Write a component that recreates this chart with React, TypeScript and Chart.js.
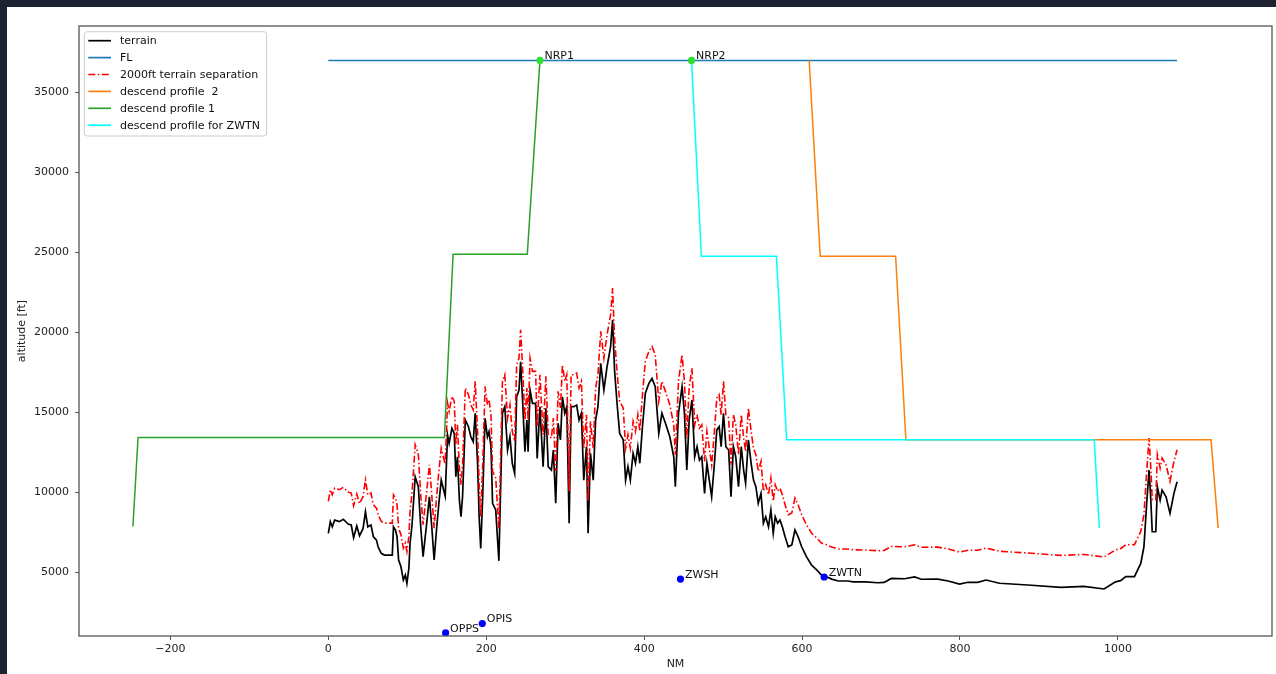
import React, { useEffect, useRef } from 'react';
import { Chart, registerables } from 'chart.js';

Chart.register(...registerables);

// ---------------- data ----------------
const terrainX = [
  0, 2.5, 5, 8, 14, 19, 25, 29, 32, 36,
  39.5, 44, 47, 50, 54, 57, 61, 63, 67, 71,
  81, 82.5, 85, 87, 89, 92, 95, 97.5, 99.5, 102,
  103.5, 106, 110, 114, 117, 120, 125, 128, 131, 134,
  137, 140, 143, 146, 148, 151, 153, 156.5, 159.5, 161.5,
  163.5, 166, 168, 170, 173.5, 177.5, 180.5, 183.5, 186, 189,
  191, 193, 195.5, 198.5, 201.5, 203.5, 206, 208, 212, 216,
  220.5, 223.5, 227, 230, 233, 236, 238.5, 241.5, 243.5, 246,
  249, 251.5, 253, 255.5, 258.5, 262.5, 264.5, 268, 272, 275.5,
  278.5, 282.5, 285, 288, 291, 294, 296.5, 299.5, 302, 305,
  307.5, 311, 314.5, 317.5, 320.5, 323.5, 327, 329, 332, 335.5,
  338.5, 341.5, 345, 349, 353, 357.5, 360, 362.5, 366, 369,
  373.5, 376.5, 379.5, 382.5, 386, 389, 392, 394.5, 397.5, 401.5,
  406, 410, 414, 418.5, 422.5, 427, 432.5, 437.5, 439.5, 443.5,
  448, 451, 454, 457, 460.5, 464, 467, 470, 473, 476.5,
  479.5, 482.5, 485.5, 489, 492, 495, 497.5, 500.5, 503.5, 507,
  510, 513, 516, 519.5, 523, 526, 528.5, 532, 535.5, 538.5,
  541.5, 544.5, 548, 551, 554, 557.5, 560.5, 563.5, 566, 569,
  572, 575, 578.5, 582.5, 587, 591, 595, 599.5, 605.5, 612,
  618.5, 624.5, 631, 637.5, 646, 658, 665, 680, 696, 704,
  713, 730, 742.5, 751, 772, 785, 799.5, 810, 822.5, 833,
  850, 886, 928, 957, 982.5, 997, 1003.5, 1010, 1021, 1029,
  1033, 1036.5, 1039.5, 1041.5, 1043.5, 1048, 1050, 1053.5, 1056, 1061,
  1066, 1071, 1075,
];

const terrainY = [
  7420, 8150, 7830, 8250, 8150, 8300, 8000, 7940, 7150, 7880,
  7270, 7730, 8770, 7830, 7940, 7210, 7000, 6580, 6170, 6060,
  6060, 7830, 7630, 7210, 5750, 5330, 4500, 4810, 4290, 5230,
  6800, 7940, 10960, 10340, 7830, 5960, 8250, 9710, 7830, 5750,
  7630, 9300, 10750, 10130, 9750, 13570, 13050, 13990, 13670, 10960,
  12210, 9500, 8460, 9710, 14510, 14090, 13460, 13150, 14930, 11800,
  8460, 6480, 9710, 14610, 13460, 13780, 12840, 9300, 8880, 5700,
  14930, 15340, 12630, 13460, 11800, 11170, 15960, 16380, 18150, 15760,
  12520, 14510, 12520, 16380, 15550, 15550, 12110, 15340, 11590, 15240,
  11590, 11380, 12630, 9300, 14300, 13260, 15960, 14930, 15340, 8050,
  15340, 15340, 15440, 14510, 14930, 10750, 12840, 7420, 12420, 10750,
  14510, 15340, 18050, 16380, 17840, 19090, 20760, 17630, 15340, 13670,
  13260, 10750, 11590, 10750, 12420, 11800, 12840, 11800, 13880, 16180,
  16800, 17110, 16590, 13670, 14930, 14300, 13460, 12210, 10340, 14930,
  16590, 14930, 11380, 14510, 15760, 12210, 12840, 12000, 12210, 9920,
  11800, 10750, 9710, 11800, 13880, 14090, 12840, 14930, 12840, 12630,
  9710, 12840, 12210, 10340, 12840, 11380, 10550, 13260, 11800, 10750,
  10340, 9300, 9920, 8050, 8460, 7830, 8880, 7420, 8460, 8050,
  8250, 7830, 7210, 6580, 6690, 7630, 7210, 6580, 5960, 5440,
  5130, 4810, 4710, 4560, 4440, 4440, 4390, 4380, 4330, 4350,
  4600, 4580, 4700, 4550, 4560, 4440, 4250, 4360, 4360, 4500,
  4300, 4190, 4040, 4100, 3940, 4390, 4460, 4710, 4710, 5540,
  6580, 9300, 11380, 9710, 7520, 7520, 10340, 9500, 10130, 9710,
  8670, 9920, 10650,
];

const separationY = [
  9420, 10150, 9830, 10250, 10150, 10300, 10000, 9940, 9150, 9880,
  9270, 9730, 10770, 9830, 9940, 9210, 9000, 8580, 8170, 8060,
  8060, 9830, 9630, 9210, 7750, 7330, 6500, 6810, 6290, 7230,
  8800, 9940, 12960, 12340, 9830, 7960, 10250, 11710, 9830, 7750,
  9630, 11300, 12750, 12130, 11750, 15570, 15050, 15990, 15670, 12960,
  14210, 11500, 10460, 11710, 16510, 16090, 15460, 15150, 16930, 13800,
  10460, 8480, 11710, 16610, 15460, 15780, 14840, 11300, 10880, 7700,
  16930, 17340, 14630, 15460, 13800, 13170, 17960, 18380, 20150, 17760,
  14520, 16510, 14520, 18380, 17550, 17550, 14110, 17340, 13590, 17240,
  13590, 13380, 14630, 11300, 16300, 15260, 17960, 16930, 17340, 10050,
  17340, 17340, 17440, 16510, 16930, 12750, 14840, 9420, 14420, 12750,
  16510, 17340, 20050, 18380, 19840, 21090, 22760, 19630, 17340, 15670,
  15260, 12750, 13590, 12750, 14420, 13800, 14840, 13800, 15880, 18180,
  18800, 19110, 18590, 15670, 16930, 16300, 15460, 14210, 12340, 16930,
  18590, 16930, 13380, 16510, 17760, 14210, 14840, 14000, 14210, 11920,
  13800, 12750, 11710, 13800, 15880, 16090, 14840, 16930, 14840, 14630,
  11710, 14840, 14210, 12340, 14840, 13380, 12550, 15260, 13800, 12750,
  12340, 11300, 11920, 10050, 10460, 9830, 10880, 9420, 10460, 10050,
  10250, 9830, 9210, 8580, 8690, 9630, 9210, 8580, 7960, 7440,
  7130, 6810, 6710, 6560, 6440, 6440, 6390, 6380, 6330, 6350,
  6600, 6580, 6700, 6550, 6560, 6440, 6250, 6360, 6360, 6500,
  6300, 6190, 6040, 6100, 5940, 6390, 6460, 6710, 6710, 7540,
  8580, 11300, 13380, 11710, 9520, 9520, 12340, 11500, 12130, 11710,
  10670, 11920, 12650,
];

const flX = [0, 1075];
const flY = [37000, 37000];

const profile2X = [609, 623, 718.5, 731.5, 1118, 1127];
const profile2Y = [37000, 24750, 24750, 13280, 13280, 7750];

const profile1X = [-247.5, -241, 147, 158, 252, 268];
const profile1Y = [7850, 13420, 13420, 24870, 24870, 37000];

const profileZwtnX = [460, 472.5, 567.5, 580.5, 970, 976.5];
const profileZwtnY = [37000, 24750, 24750, 13280, 13280, 7750];

const nrpNames = ['NRP1', 'NRP2'];
const nrpX = [268, 460];
const nrpY = [37000, 37000];

const waypointNames = ['OPPS', 'OPIS', 'ZWSH', 'ZWTN'];
const waypointX = [148.5, 195, 446, 628];
const waypointY = [1190, 1780, 4560, 4690];

const xTicks = [-200, 0, 200, 400, 600, 800, 1000];
const yTicks = [5000, 10000, 15000, 20000, 25000, 30000, 35000];

const legendLabels = [
  'terrain',
  'FL',
  '2000ft terrain separation',
  'descend profile  2',
  'descend profile 1',
  'descend profile for ZWTN',
];

// ---------------- styling ----------------
const FONT_FAMILY = '"DejaVu Sans", "Liberation Sans", sans-serif';
const FONT_SIZE = 11;
const COLORS = {
  terrain: '#000000',
  fl: '#1f77b4',
  separation: '#ff0000',
  profile2: '#ff7f0e',
  profile1: '#2ca02c',
  zwtn: '#00ffff',
  nrp: '#33dd33',
  waypoint: '#0000ff',
};
const RED_DASH = [7, 2.5, 1.5, 2.5];

const toXY = (xs: number[], ys: number[]) => xs.map((x, i) => ({ x, y: ys[i] }));

const fmtTick = (v: number) => (v < 0 ? '\u2212' + Math.abs(v) : String(v));

export default function App() {
  const canvasRef = useRef<HTMLCanvasElement | null>(null);

  useEffect(() => {
    const canvas = canvasRef.current;
    if (!canvas) return;

    const legendItems = [
      { label: legendLabels[0], color: COLORS.terrain, dash: [] as number[] },
      { label: legendLabels[1], color: COLORS.fl, dash: [] as number[] },
      { label: legendLabels[2], color: COLORS.separation, dash: RED_DASH },
      { label: legendLabels[3], color: COLORS.profile2, dash: [] as number[] },
      { label: legendLabels[4], color: COLORS.profile1, dash: [] as number[] },
      { label: legendLabels[5], color: COLORS.zwtn, dash: [] as number[] },
    ];

    const overlay = {
      id: 'overlay',
      afterDatasetsDraw(chart: any) {
        const ctx = chart.ctx;
        const xs = chart.scales.x;
        const ys = chart.scales.y;
        ctx.save();
        ctx.font = `${FONT_SIZE}px ${FONT_FAMILY}`;
        ctx.fillStyle = '#111';
        ctx.textAlign = 'left';
        ctx.textBaseline = 'middle';
        const names = [...nrpNames, ...waypointNames];
        const px = [...nrpX, ...waypointX];
        const py = [...nrpY, ...waypointY];
        names.forEach((n, i) => {
          const x = xs.getPixelForValue(px[i]);
          const y = ys.getPixelForValue(py[i]);
          ctx.fillText(n, x + 4.5, y - 4);
        });
        ctx.restore();
      },
      afterDraw(chart: any) {
        const ctx = chart.ctx;
        const a = chart.chartArea;
        ctx.save();
        // frame (spines)
        ctx.strokeStyle = '#555';
        ctx.lineWidth = 1.3;
        ctx.strokeRect(a.left, a.top, a.right - a.left, a.bottom - a.top);

        // legend
        const bx = a.left + 5.3;
        const by = a.top + 5.7;
        const bw = 182.4;
        const bh = 104.3;
        const r = 3;
        ctx.beginPath();
        ctx.moveTo(bx + r, by);
        ctx.lineTo(bx + bw - r, by);
        ctx.quadraticCurveTo(bx + bw, by, bx + bw, by + r);
        ctx.lineTo(bx + bw, by + bh - r);
        ctx.quadraticCurveTo(bx + bw, by + bh, bx + bw - r, by + bh);
        ctx.lineTo(bx + r, by + bh);
        ctx.quadraticCurveTo(bx, by + bh, bx, by + bh - r);
        ctx.lineTo(bx, by + r);
        ctx.quadraticCurveTo(bx, by, bx + r, by);
        ctx.closePath();
        ctx.fillStyle = 'rgba(255,255,255,0.8)';
        ctx.fill();
        ctx.strokeStyle = '#cccccc';
        ctx.lineWidth = 1;
        ctx.stroke();

        ctx.font = `${FONT_SIZE}px ${FONT_FAMILY}`;
        ctx.textAlign = 'left';
        ctx.textBaseline = 'middle';
        legendItems.forEach((it, i) => {
          const cy = by + 9 + i * 16.9;
          ctx.beginPath();
          ctx.setLineDash(it.dash);
          ctx.strokeStyle = it.color;
          ctx.lineWidth = 1.7;
          ctx.moveTo(bx + 4, cy);
          ctx.lineTo(bx + 26.7, cy);
          ctx.stroke();
          ctx.setLineDash([]);
          ctx.fillStyle = '#111';
          ctx.fillText(it.label, bx + 35.7, cy + 0.5);
        });
        ctx.restore();
      },
    };

    const lineDs = (label: string, xs: number[], ys: number[], color: string, order: number, width: number, extra: any = {}) => ({
      label,
      data: toXY(xs, ys),
      borderColor: color,
      backgroundColor: color,
      borderWidth: width,
      pointRadius: 0,
      tension: 0,
      fill: false,
      order,
      ...extra,
    });

    const font = { family: FONT_FAMILY, size: FONT_SIZE };

    const chart = new Chart(canvas, {
      type: 'line',
      data: {
        datasets: [
          lineDs('terrain', terrainX, terrainY, COLORS.terrain, 7, 1.7),
          lineDs('FL', flX, flY, COLORS.fl, 6, 1.5),
          lineDs('2000ft terrain separation', terrainX, separationY, COLORS.separation, 5, 1.6, { borderDash: RED_DASH }),
          lineDs('descend profile  2', profile2X, profile2Y, COLORS.profile2, 4, 1.5),
          lineDs('descend profile 1', profile1X, profile1Y, COLORS.profile1, 3, 1.5),
          lineDs('descend profile for ZWTN', profileZwtnX, profileZwtnY, COLORS.zwtn, 2, 1.5),
          {
            label: 'NRP',
            data: toXY(nrpX, nrpY),
            showLine: false,
            pointRadius: 3.6,
            pointBorderWidth: 0,
            pointBackgroundColor: COLORS.nrp,
            borderColor: COLORS.nrp,
            order: 1,
            clip: 0,
          },
          {
            label: 'waypoints',
            data: toXY(waypointX, waypointY),
            showLine: false,
            pointRadius: 3.6,
            pointBorderWidth: 0,
            pointBackgroundColor: COLORS.waypoint,
            borderColor: COLORS.waypoint,
            order: 0,
            clip: 0,
          },
        ] as any,
      },
      options: {
        responsive: false,
        animation: false,
        devicePixelRatio: 1,
        events: [],
        layout: { padding: { left: 0, top: 19, right: 1, bottom: 0 } },
        plugins: {
          legend: { display: false },
          tooltip: { enabled: false },
          title: { display: false },
        },
        scales: {
          x: {
            type: 'linear',
            min: -315.8,
            max: 1195.2,
            afterBuildTicks: (s: any) => {
              s.ticks = xTicks.map((v) => ({ value: v }));
            },
            afterFit: (s: any) => {
              s.height = 38;
            },
            ticks: {
              callback: (v: any) => fmtTick(Number(v)),
              font,
              color: '#222',
              padding: 3,
              maxRotation: 0,
              autoSkip: false,
            },
            grid: { drawOnChartArea: false, drawTicks: true, tickLength: 4, color: '#555' },
            border: { display: false },
            title: { display: true, text: 'NM', font, color: '#222', padding: { top: 0, bottom: 3 } },
          },
          y: {
            type: 'linear',
            min: 1000,
            max: 39150,
            afterBuildTicks: (s: any) => {
              s.ticks = yTicks.map((v) => ({ value: v }));
            },
            afterFit: (s: any) => {
              s.width = 72;
            },
            ticks: {
              callback: (v: any) => fmtTick(Number(v)),
              font,
              color: '#222',
              padding: 6,
              autoSkip: false,
            },
            grid: { drawOnChartArea: false, drawTicks: true, tickLength: 4, color: '#555' },
            border: { display: false },
            title: { display: true, text: 'altitude [ft]', font, color: '#222', padding: { top: 9, bottom: 0 } },
          },
        },
      } as any,
      plugins: [overlay as any],
    });

    return () => chart.destroy();
  }, []);

  return (
    <div style={{ position: 'fixed', left: 0, top: 0, right: 0, bottom: 0, background: '#1c2230' }}>
      <div style={{ position: 'absolute', left: 7, top: 7, width: 1269, height: 667, background: '#ffffff' }}>
        <canvas ref={canvasRef} width={1269} height={667} style={{ display: 'block' }} />
      </div>
    </div>
  );
}
